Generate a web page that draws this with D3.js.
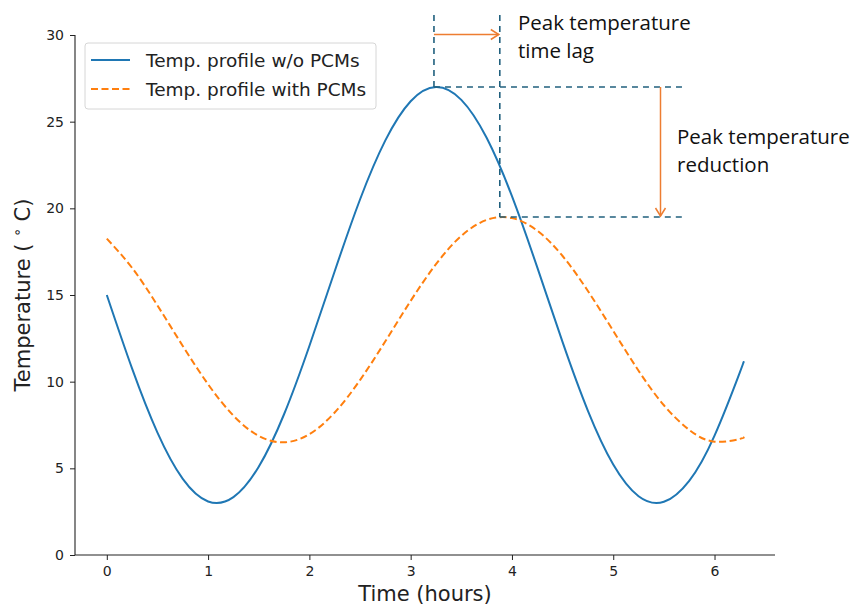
<!DOCTYPE html>
<html>
<head>
<meta charset="utf-8">
<script src="https://cdn.jsdelivr.net/npm/d3@7"></script>
<style>
  body { margin: 0; background: #fff; }
  svg { display: block; }
</style>
</head>
<body>
<div id="chart"></div>
<script>
const W = 856, H = 607

// values
const timeHours = [0, 0.25, 0.5, 0.75, 1.0, 1.25, 1.5, 1.75, 2.0, 2.25, 2.5, 2.75, 3.0, 3.25,
                   3.5, 3.75, 4.0, 4.25, 4.5, 4.75, 5.0, 5.25, 5.5, 5.75, 6.0, 6.25, 6.28]
const tempNoPCM = [15, 10.75, 7.06, 4.39, 3.09, 3.34, 5.09, 8.12, 12.06, 16.37, 20.51, 23.92, 26.18, 27.0,
                   26.26, 24.07, 20.7, 16.59, 12.28, 8.32, 5.22, 3.39, 3.07, 4.28, 6.89, 10.54, 11.03]
const tempPCM   = [18.25, 16.56, 14.40, 12.06, 9.85, 8.04, 6.87, 6.50, 6.97, 8.22, 10.09, 12.33, 14.66, 16.78,
                   18.41, 19.33, 19.44, 18.71, 17.25, 15.23, 12.93, 10.63, 8.64, 7.22, 6.54, 6.70, 6.78]
const xTicks = [0, 1, 2, 3, 4, 5, 6]
const yTicks = [0, 5, 10, 15, 20, 25, 30]
const seriesNames = ["Temp. profile w/o PCMs", "Temp. profile with PCMs"]

// annotation anchors (peak of each curve)
const peakNoPCM = { t: 3.23, v: 27.0 }
const peakPCM = { t: 3.88, v: 19.5 }

const margin = { left: 75, right: 81, top: 35, bottom: 52 }

var x = d3.scaleLinear()
    .domain([-0.314, 6.597])
    .range([margin.left, W - margin.right])
var y = d3.scaleLinear()
    .domain([0, 30])
    .range([H - margin.bottom, margin.top])

var svg = d3.select("#chart").append("svg")
    .attr("width", W)
    .attr("height", H)

const tickFont = "DejaVu Sans, sans-serif"

// axes
var xAxis = svg.append("g")
    .attr("transform", `translate(0,${y(0)})`)
    .call(d3.axisBottom(x).tickValues(xTicks).tickFormat(d3.format("d")).tickSize(5).tickPadding(6))
var yAxis = svg.append("g")
    .attr("transform", `translate(${margin.left},0)`)
    .call(d3.axisLeft(y).tickValues(yTicks).tickFormat(d3.format("d")).tickSize(5).tickPadding(6))

;[xAxis, yAxis].forEach(a => {
    a.select(".domain").attr("stroke", "#222").attr("stroke-width", 1.1)
    a.selectAll(".tick line").attr("stroke", "#222")
    a.selectAll(".tick text")
        .attr("fill", "#222")
        .style("font-family", tickFont)
        .style("font-size", "14px")
})
// matplotlib-like: no end caps on spines
xAxis.select(".domain").attr("d", `M${x.range()[0]},0H${x.range()[1]}`)
yAxis.select(".domain").attr("d", `M0,${y.range()[0]}V${y.range()[1]}`)

svg.append("text")
    .attr("x", (x.range()[0] + x.range()[1]) / 2)
    .attr("y", 601)
    .attr("text-anchor", "middle")
    .style("font-family", tickFont)
    .style("font-size", "21px")
    .attr("fill", "#222")
    .text("Time (hours)")

var yl = svg.append("text")
    .attr("transform", `translate(30,${(y.range()[0] + y.range()[1]) / 2}) rotate(-90)`)
    .attr("text-anchor", "middle")
    .style("font-family", tickFont)
    .style("font-size", "21px")
    .attr("fill", "#222")
yl.append("tspan").text("Temperature ( ")
yl.append("tspan").attr("dy", -8).style("font-size", "14px").text("∘")
yl.append("tspan").attr("dy", 8).text(" C)")

// curves
const rows = timeHours.map((t, i) => ({ t: t, a: tempNoPCM[i], b: tempPCM[i] }))

var lineA = d3.line().x(d => x(d.t)).y(d => y(d.a)).curve(d3.curveNatural)
var lineB = d3.line().x(d => x(d.t)).y(d => y(d.b)).curve(d3.curveNatural)

svg.append("path")
    .datum(rows)
    .attr("d", lineA)
    .attr("fill", "none")
    .attr("stroke", "#1f77b4")
    .attr("stroke-width", 2)

svg.append("path")
    .datum(rows)
    .attr("d", lineB)
    .attr("fill", "none")
    .attr("stroke", "#ff7f0e")
    .attr("stroke-width", 2)
    .attr("stroke-dasharray", "7,3.5")

// legend
var leg = svg.append("g")
leg.append("rect")
    .attr("x", 85).attr("y", 43)
    .attr("width", 291).attr("height", 66)
    .attr("rx", 3)
    .attr("fill", "#fff")
    .attr("stroke", "#d6d6d6")
    .attr("stroke-width", 1)
const legColors = ["#1f77b4", "#ff7f0e"]
seriesNames.forEach((name, i) => {
    let ly = 60 + i * 29
    leg.append("line")
        .attr("x1", 91).attr("x2", 130)
        .attr("y1", ly).attr("y2", ly)
        .attr("stroke", legColors[i])
        .attr("stroke-width", 2)
        .attr("stroke-dasharray", i == 1 ? "7,3.5" : null)
    leg.append("text")
        .attr("x", 146).attr("y", ly + 6.5)
        .style("font-family", tickFont)
        .style("font-size", "18.5px")
        .attr("fill", "#222")
        .text(name)
})

// annotations
const dashCol = "#20607e"
const arrowCol = "#ed7d31"
var ann = svg.append("g")
    .attr("fill", "none")

const xa = x(peakNoPCM.t), xb = x(peakPCM.t)
const ya = y(peakNoPCM.v), yb = y(peakPCM.v)
const xEnd = 682, yTop = 15

ann.append("line").attr("x1", xa).attr("x2", xa).attr("y1", yTop).attr("y2", ya)
ann.append("line").attr("x1", xb).attr("x2", xb).attr("y1", yTop).attr("y2", yb)
ann.append("line").attr("x1", xa).attr("x2", xEnd).attr("y1", ya).attr("y2", ya)
ann.append("line").attr("x1", xb).attr("x2", xEnd).attr("y1", yb).attr("y2", yb)
ann.selectAll("line")
    .attr("stroke", dashCol)
    .attr("stroke-width", 1.6)
    .attr("stroke-dasharray", "6,5")

// horizontal arrow (time lag)
const ay = 34.5
ann.append("line")
    .attr("x1", xa).attr("x2", xb - 1)
    .attr("y1", ay).attr("y2", ay)
    .attr("stroke", arrowCol).attr("stroke-width", 1.5)
ann.append("path")
    .attr("d", `M${xb - 9},${ay - 5}L${xb - 1},${ay}L${xb - 9},${ay + 5}`)
    .attr("stroke", arrowCol).attr("stroke-width", 1.5)

// vertical arrow (reduction)
const ax = 660.5
ann.append("line")
    .attr("x1", ax).attr("x2", ax)
    .attr("y1", ya).attr("y2", yb - 1)
    .attr("stroke", arrowCol).attr("stroke-width", 1.5)
ann.append("path")
    .attr("d", `M${ax - 5},${yb - 9}L${ax},${yb - 1}L${ax + 5},${yb - 9}`)
    .attr("stroke", arrowCol).attr("stroke-width", 1.5)

const annFont = "Open Sans, sans-serif"
function annText(tx, ty, lines) {
    lines.forEach((s, i) => {
        svg.append("text")
            .attr("x", tx).attr("y", ty + i * 28)
            .style("font-family", annFont)
            .style("font-size", "20.5px")
            .attr("fill", "#111")
            .text(s)
    })
}
annText(518, 30, ["Peak temperature", "time lag"])
annText(677, 144, ["Peak temperature", "reduction"])
</script>
</body>
</html>
